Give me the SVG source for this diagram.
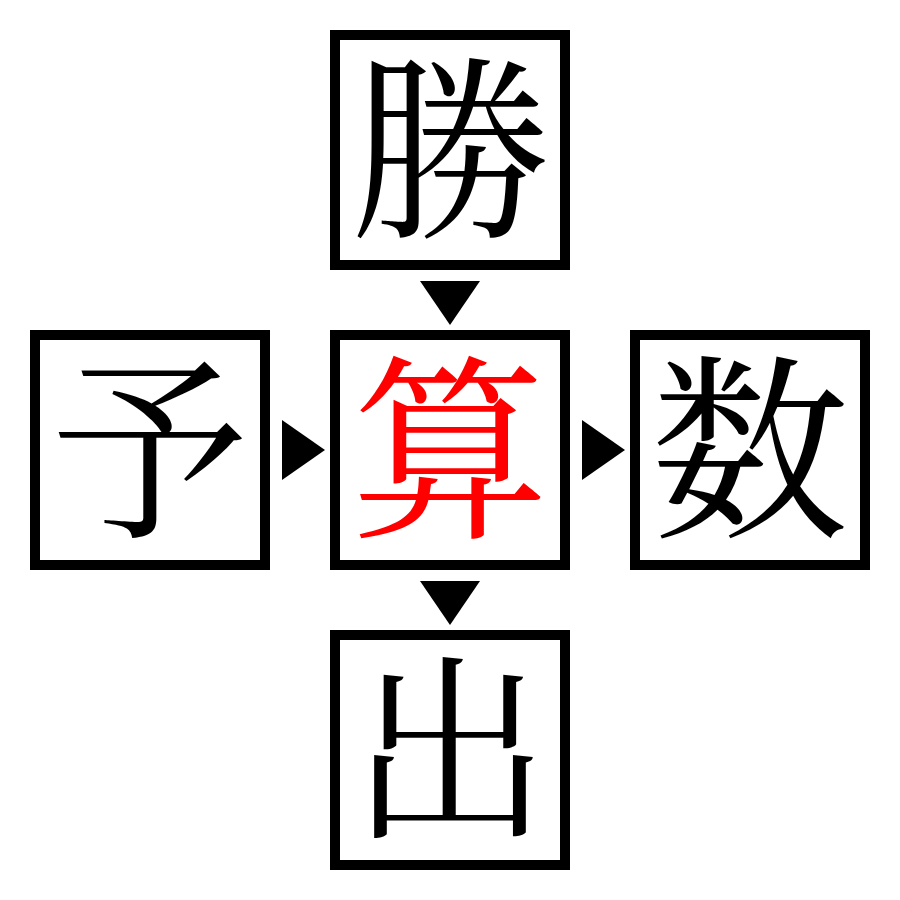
<svg xmlns="http://www.w3.org/2000/svg" width="900" height="900" viewBox="0 0 900 900">
<style>
.box{fill:#fff;stroke:#000;stroke-width:10}
.ch{font-family:"Noto Serif CJK JP","Noto Sans CJK JP",serif;font-size:198px;text-anchor:middle;dominant-baseline:central;fill:#000}
.red{fill:#ff0000}
.arr{fill:#000}
</style>
<rect width="900" height="900" fill="#fff"/>
<g id="node-top"><rect class="box" x="335" y="35" width="230" height="230"/><text class="ch" x="450" y="136">勝</text></g>
<g id="node-left"><rect class="box" x="35" y="335" width="230" height="230"/><text class="ch" x="150" y="436">予</text></g>
<g id="node-center"><rect class="box" x="335" y="335" width="230" height="230"/><text class="ch red" x="450" y="436">算</text></g>
<g id="node-right"><rect class="box" x="635" y="335" width="230" height="230"/><text class="ch" x="750" y="436">数</text></g>
<g id="node-bottom"><rect class="box" x="335" y="635" width="230" height="230"/><text class="ch" x="450" y="736">出</text></g>
<g id="connectors">
<polygon class="arr" points="420,281 480,281 450,325"/>
<polygon class="arr" points="282,420 282,480 325,450"/>
<polygon class="arr" points="582,420 582,480 625,450"/>
<polygon class="arr" points="420,581 480,581 450,625"/>
</g>
</svg>
